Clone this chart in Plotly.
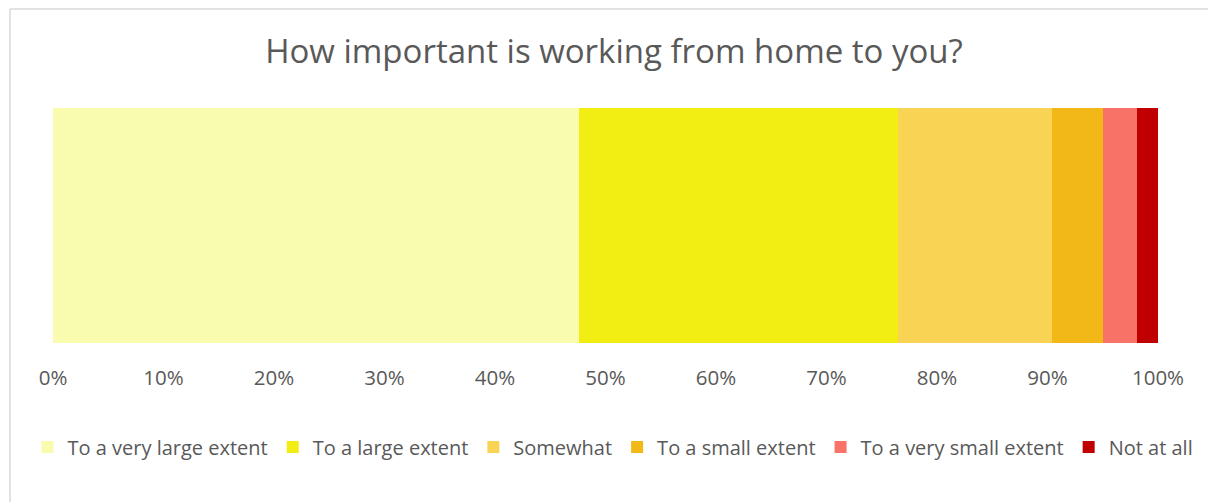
import plotly.graph_objects as go

categories = ["To a very large extent", "To a large extent", "Somewhat",
              "To a small extent", "To a very small extent", "Not at all"]
shares = [47.6, 28.9, 13.9, 4.6, 3.1, 1.9]
colors = ["#F9FCAF", "#F2EE14", "#F8D354", "#F2B817", "#F87268", "#C00000"]
tick_vals = [0, 10, 20, 30, 40, 50, 60, 70, 80, 90, 100]
tick_text = [f"{v}%" for v in tick_vals]

W, H = 1208, 502
# plot area: x 53..1158 px, y 108..343 px
X0, X1 = 53, 1158
MT, MB = 108, 159
ph = H - MT - MB

fig = go.Figure()
for name, val, col in zip(categories, shares, colors):
    fig.add_trace(go.Bar(
        x=[val], y=["Q"], orientation="h", name=name,
        marker=dict(color=col, line=dict(width=0)),
        hoverinfo="name+x",
    ))


def px_x(x):
    return x / W


def px_y(y):
    return (H - MB - y) / ph


fig.update_layout(
    width=W, height=H,
    margin=dict(l=0, r=0, t=MT, b=MB, autoexpand=False),
    barmode="stack", bargap=0,
    paper_bgcolor="white", plot_bgcolor="white",
    font=dict(family="Open Sans", color="#595959"),
    title=dict(text="How important is working from home to you?",
               x=614 / W, xanchor="center", y=1 - 51 / H, yanchor="middle",
               font=dict(size=33, color="#595959")),
    xaxis=dict(domain=[X0 / W, X1 / W], range=[0, 100],
               tickvals=tick_vals, ticktext=tick_text,
               showgrid=False, zeroline=False, showline=False, ticks="",
               tickfont=dict(size=20.5, color="#595959"), ticklabelstandoff=20),
    yaxis=dict(range=[-0.5, 0.5], showticklabels=False, showgrid=False,
               zeroline=False, showline=False),
    legend=dict(orientation="h", xref="container", yref="container",
                x=613 / W, xanchor="center",
                y=1 - 447 / H, yanchor="middle",
                font=dict(size=20, color="#595959"),
                itemwidth=30, tracegroupgap=0, traceorder="normal"),
    showlegend=True,
    shapes=[
        dict(type="line", xref="paper", yref="paper",
             x0=px_x(10), x1=px_x(10), y0=px_y(9), y1=px_y(H + 10),
             line=dict(color="#D9D9D9", width=1.5)),
        dict(type="line", xref="paper", yref="paper",
             x0=px_x(10), x1=px_x(W + 10), y0=px_y(9), y1=px_y(9),
             line=dict(color="#D9D9D9", width=1.5)),
    ],
)

fig.write_html("out.html")
